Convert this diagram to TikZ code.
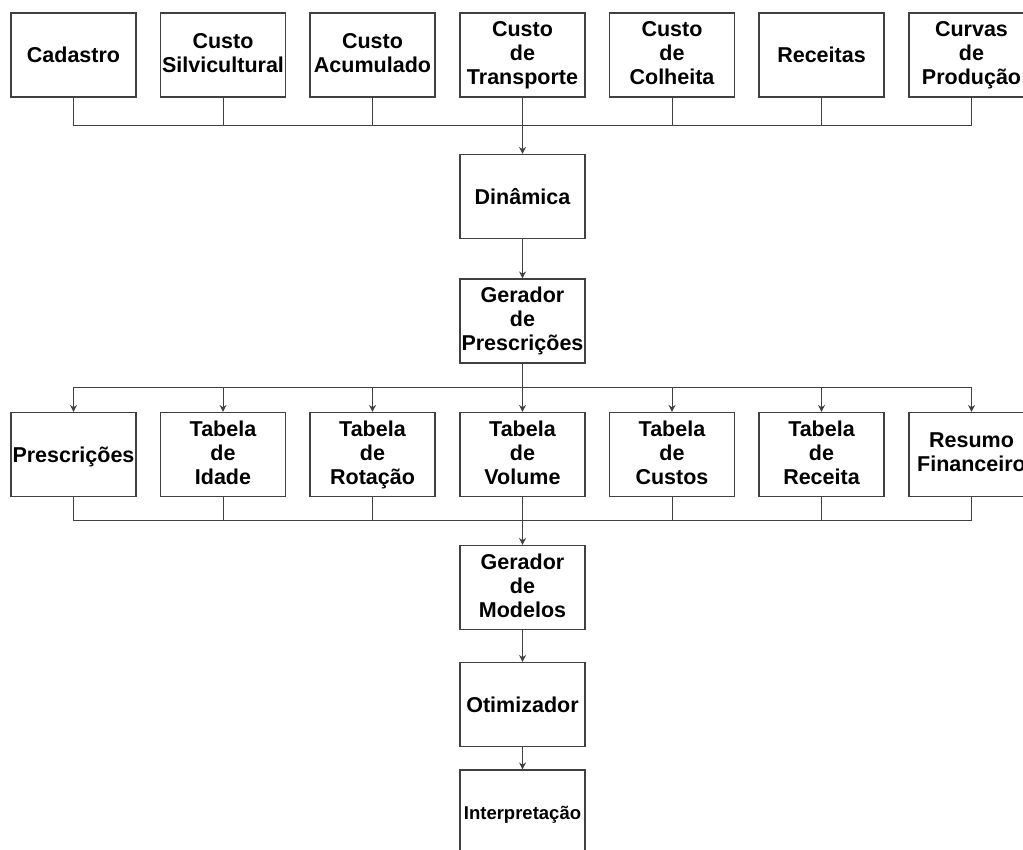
\documentclass[tikz,border=0pt]{standalone}
\usepackage{fontspec}
\setmainfont{Liberation Sans}
\usetikzlibrary{arrows.meta}
\newcommand{\boxstrut}{\rule[-4.5pt]{0pt}{24pt}}
\tikzset{
  box/.style={draw=black!75, line width=1.1pt, fill=white, minimum width=125pt, minimum height=84pt,
    inner sep=0pt, align=center, font=\fontsize{21.5}{24}\selectfont\bfseries,
    execute at begin node={\boxstrut}, execute at end node={\boxstrut}},
  link/.style={draw=black!75, line width=1pt},
  tip/.style={link, -{Stealth[length=7pt,width=7pt]}}
}
\begin{document}
\begin{tikzpicture}[x=1pt,y=-1pt]
      \useasboundingbox (0,0) rectangle (1023,849);
      % entradas
      \node[box] (cad) at (73.5,55) {Cadastro};
      \node[box] (csi) at (223,55) {Custo\\Silvicultural};
      \node[box] (cac) at (372.5,55) {Custo\\Acumulado};
      \node[box] (ctr) at (522.5,55) {Custo\\de\\Transporte};
      \node[box] (cco) at (672,55) {Custo\\de\\Colheita};
      \node[box] (rec) at (821.5,55) {Receitas};
      \node[box] (cur) at (971.5,55) {Curvas\\de\\Produção};
      % sequencia central
      \node[box] (din) at (522.5,196.5) {Dinâmica};
      \node[box] (gpr) at (522.5,321) {Gerador\\de\\Prescrições};
      % tabelas
      \node[box] (pre) at (73.5,454.5) {Prescrições};
      \node[box] (tid) at (223,454.5) {Tabela\\de\\Idade};
      \node[box] (tro) at (372.5,454.5) {Tabela\\de\\Rotação};
      \node[box] (tvo) at (522.5,454.5) {Tabela\\de\\Volume};
      \node[box] (tcu) at (672,454.5) {Tabela\\de\\Custos};
      \node[box] (tre) at (821.5,454.5) {Tabela\\de\\Receita};
      \node[box] (rfi) at (971.5,454.5) {Resumo\\Financeiro};
      \node[box] (gmo) at (522.5,587.5) {Gerador\\de\\Modelos};
      \node[box] (oti) at (522.5,704.5) {Otimizador};
      \node[box, font=\fontsize{18.5}{22}\selectfont\bfseries] (int) at (522.5,812) {Interpretação};
      \coordinate (busA) at (522.5,125);
      \coordinate (busB) at (522.5,387);
      \coordinate (busC) at (522.5,520);
      % barramento de entrada
      \draw[link] (cad.south) |- (busA);
      \draw[link] (csi.south) |- (busA);
      \draw[link] (cac.south) |- (busA);
      \draw[link] (ctr.south) -- (busA);
      \draw[link] (cco.south) |- (busA);
      \draw[link] (rec.south) |- (busA);
      \draw[link] (cur.south) |- (busA);
      \draw[tip] (busA) -- (din.north);
      \draw[tip] (din.south) -- (gpr.north);
      % distribuicao
      \draw[link] (gpr.south) -- (busB);
      \draw[tip] (busB) -| (pre.north);
      \draw[tip] (busB) -| (tid.north);
      \draw[tip] (busB) -| (tro.north);
      \draw[tip] (busB) -- (tvo.north);
      \draw[tip] (busB) -| (tcu.north);
      \draw[tip] (busB) -| (tre.north);
      \draw[tip] (busB) -| (rfi.north);
      % juncao
      \draw[link] (pre.south) |- (busC);
      \draw[link] (tid.south) |- (busC);
      \draw[link] (tro.south) |- (busC);
      \draw[link] (tvo.south) -- (busC);
      \draw[link] (tcu.south) |- (busC);
      \draw[link] (tre.south) |- (busC);
      \draw[link] (rfi.south) |- (busC);
      \draw[tip] (busC) -- (gmo.north);
      \draw[tip] (gmo.south) -- (oti.north);
      \draw[tip] (oti.south) -- (int.north);
\end{tikzpicture}
\end{document}
